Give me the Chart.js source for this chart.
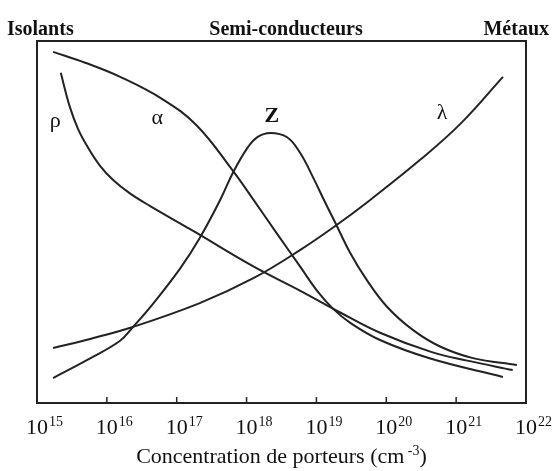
<!DOCTYPE html>
<html lang="fr">
<head>
  <meta charset="UTF-8" />
  <title>Isolants, semi-conducteurs, métaux</title>
  <script src="https://cdn.jsdelivr.net/npm/chart.js"></script>
  <style>
    html, body { margin: 0; padding: 0; background: #fff; }
    canvas { display: block; }
  </style>
</head>
<body>
  <canvas id="chart" width="556" height="471"></canvas>

  <script>
    // x = log10 of carrier concentration (cm-3), y = relative value (0..100, arbitrary units)
    const exponents = [15, 16, 17, 18, 19, 20, 21, 22];
    const regions = ['Isolants', 'Semi-conducteurs', 'Métaux'];

    const rhoLogN = [15.34, 15.47, 15.59, 15.72, 15.90, 16.09, 16.33, 16.62, 17.23, 18.09, 18.77, 19.34, 19.91, 20.63, 21.16, 21.81];
    const rhoVal  = [91.2, 81.8, 75.6, 70.9, 65.6, 61.6, 57.9, 54.4, 47.6, 37.8, 31.0, 25.0, 19.4, 14.2, 11.7, 9.1];

    const alphaLogN = [15.23, 15.69, 16.19, 16.80, 17.29, 17.81, 18.09, 18.42, 18.77, 19.01, 19.24, 19.48, 19.91, 20.63, 21.67];
    const alphaVal  = [97.0, 94.0, 90.1, 83.9, 76.6, 64.0, 56.4, 47.2, 37.6, 31.0, 26.0, 22.2, 17.4, 12.3, 7.2];

    const zLogN = [15.23, 15.72, 16.19, 16.37, 16.66, 17.05, 17.33, 17.62, 17.81, 18.01, 18.15, 18.34, 18.58, 18.77, 18.95, 19.12, 19.27, 19.48, 19.72, 20.01, 20.38, 20.77, 21.24, 21.87];
    const zVal  = [6.9, 11.9, 17.2, 20.9, 27.4, 37.2, 45.6, 56.0, 63.8, 70.4, 73.4, 74.6, 73.4, 69.0, 62.4, 55.6, 49.8, 41.6, 34.0, 26.6, 20.2, 15.6, 12.4, 10.5];

    const lambdaLogN = [15.23, 15.76, 16.37, 17.33, 18.09, 18.77, 19.27, 19.77, 20.48, 21.06, 21.67];
    const lambdaVal  = [15.2, 17.7, 21.0, 27.6, 34.4, 42.3, 48.9, 56.1, 67.1, 77.1, 90.1];

    const curveNames = ['ρ', 'α', 'Z', 'λ'];
    const nameLogN = [15.26, 16.72, 18.36, 20.80];
    const nameVal  = [77.9, 78.7, 79.3, 80.1];

    const INK = '#222';
    const SERIF = '"Liberation Serif", "DejaVu Serif", serif';

    function pts(xs, ys) {
      return xs.map((x, i) => ({ x: x, y: ys[i] }));
    }

    const decor = {
      id: 'decor',
      afterDraw(chart) {
        const ctx = chart.ctx;
        const a = chart.chartArea;
        const xs = chart.scales.x;
        const ys = chart.scales.y;
        ctx.save();
        ctx.fillStyle = '#111';
        ctx.strokeStyle = INK;

        // frame
        ctx.lineWidth = 2;
        ctx.strokeRect(a.left, a.top, a.right - a.left, a.bottom - a.top);

        // inner ticks and labels 10^n
        ctx.lineWidth = 1.5;
        ctx.textBaseline = 'alphabetic';
        exponents.forEach(e => {
          const px = xs.getPixelForValue(e);
          ctx.beginPath();
          ctx.moveTo(px, a.bottom);
          ctx.lineTo(px, a.bottom - 6);
          ctx.stroke();
          ctx.font = '22px ' + SERIF;
          const w = ctx.measureText('10').width;
          const x0 = px - w / 2;
          ctx.fillText('10', x0, a.bottom + 31);
          ctx.font = '14px ' + SERIF;
          ctx.fillText(String(e), x0 + w + 1, a.bottom + 23);
        });

        // axis title with superscript
        const main = 'Concentration de porteurs (cm';
        ctx.font = '22px ' + SERIF;
        const wMain = ctx.measureText(main).width;
        const wPar = ctx.measureText(')').width;
        ctx.font = '14px ' + SERIF;
        const wSup = ctx.measureText(' -3').width;
        const cx = (a.left + a.right) / 2;
        let tx = cx - (wMain + wSup + wPar) / 2;
        const base = a.bottom + 60;
        ctx.font = '22px ' + SERIF;
        ctx.fillText(main, tx, base);
        tx += wMain;
        ctx.font = '14px ' + SERIF;
        ctx.fillText(' -3', tx, base - 8);
        tx += wSup;
        ctx.font = '22px ' + SERIF;
        ctx.fillText(')', tx, base);

        // region labels above the frame
        ctx.font = 'bold 20px ' + SERIF;
        ctx.textAlign = 'left';
        ctx.fillText(regions[0], 7, 35);
        ctx.textAlign = 'center';
        ctx.fillText(regions[1], 286, 35);
        ctx.textAlign = 'right';
        ctx.fillText(regions[2], 549, 35);

        // curve names
        ctx.textAlign = 'center';
        ctx.textBaseline = 'middle';
        curveNames.forEach((n, i) => {
          ctx.font = (n === 'Z' ? 'bold ' : '') + '22px ' + SERIF;
          ctx.fillText(n, xs.getPixelForValue(nameLogN[i]), ys.getPixelForValue(nameVal[i]));
        });
        ctx.restore();
      }
    };

    new Chart(document.getElementById('chart'), {
      type: 'line',
      data: {
        datasets: [
          { label: 'ρ', data: pts(rhoLogN, rhoVal) },
          { label: 'α', data: pts(alphaLogN, alphaVal) },
          { label: 'Z', data: pts(zLogN, zVal) },
          { label: 'λ', data: pts(lambdaLogN, lambdaVal) }
        ]
      },
      options: {
        responsive: false,
        animation: false,
        parsing: false,
        layout: { padding: { left: 37, right: 30, top: 41, bottom: 68 } },
        elements: {
          point: { radius: 0 },
          line: { borderWidth: 2, borderColor: INK, tension: 0.4, fill: false }
        },
        scales: {
          x: { type: 'linear', min: 15, max: 22, display: false },
          y: { min: 0, max: 100, display: false }
        },
        plugins: { legend: { display: false }, tooltip: { enabled: false } }
      },
      plugins: [decor]
    });
  </script>
</body>
</html>
